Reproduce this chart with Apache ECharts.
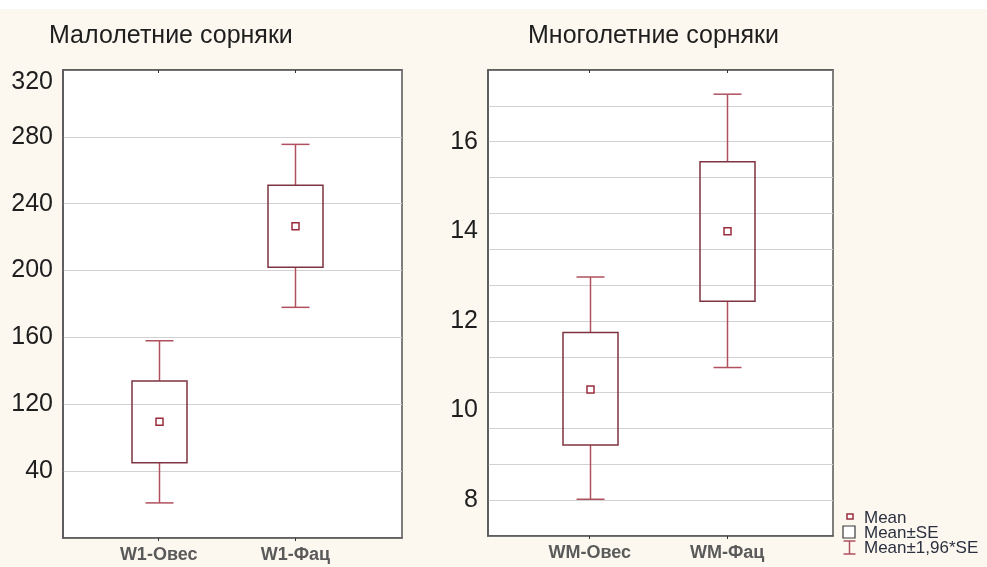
<!DOCTYPE html>
<html>
<head>
<meta charset="utf-8">
<title>Сорняки</title>
<script src="https://cdn.jsdelivr.net/npm/echarts@6/dist/echarts.min.js"></script>
<style>
  html, body { margin: 0; padding: 0; background: #ffffff; }
  #chart { width: 987px; height: 567px; }
</style>
</head>
<body>
<div id="chart"></div>
<script>
// --- data ---
var titles = ['Малолетние сорняки', 'Многолетние сорняки'];

var categoriesLeft = ['W1-Овес', 'W1-Фац'];
var meanLeft = [109.5, 226.5];
var seLowLeft = [85, 202];
var seHighLeft = [134, 251];
var ciLowLeft = [61, 178];
var ciHighLeft = [158, 275.5];
var yTickPosLeft = [80, 120, 160, 200, 240, 280, 313];
var yTickLabelsLeft = ['40', '120', '160', '200', '240', '280', '320'];

var categoriesRight = ['WM-Овес', 'WM-Фац'];
var meanRight = [10.47, 14.0];
var seLowRight = [9.23, 12.44];
var seHighRight = [11.74, 15.55];
var ciLowRight = [8.02, 10.96];
var ciHighRight = [12.98, 17.06];
var yTickPosRight = [8, 10, 12, 14, 16];
var yTickLabelsRight = ['8', '10', '12', '14', '16'];

var legendLabels = ['Mean', 'Mean±SE', 'Mean±1,96*SE'];

var FONT = 'Liberation Sans, Arial, sans-serif';
var BOX_COLOR = '#7e3440';
var WHISKER_COLOR = '#b0505e';
var MEAN_COLOR = '#9a2c3c';

function rows(mean, seLo, seHi, ciLo, ciHi) {
  return mean.map(function (m, i) {
    return [i + 1, m, seLo[i], seHi[i], ciLo[i], ciHi[i]];
  });
}

function renderBox(params, api) {
  var x = api.value(0);
  var mean = api.coord([x, api.value(1)]);
  var seLo = api.coord([x, api.value(2)]);
  var seHi = api.coord([x, api.value(3)]);
  var ciLo = api.coord([x, api.value(4)]);
  var ciHi = api.coord([x, api.value(5)]);
  var cx = Math.round(mean[0]) + 0.5;
  var boxW = 55, capW = 28, m = 7;
  var wStyle = { stroke: WHISKER_COLOR, lineWidth: 1.5 };
  return {
    type: 'group',
    children: [
      { type: 'line', shape: { x1: cx, y1: ciHi[1], x2: cx, y2: seHi[1] }, style: wStyle },
      { type: 'line', shape: { x1: cx, y1: seLo[1], x2: cx, y2: ciLo[1] }, style: wStyle },
      { type: 'line', shape: { x1: cx - capW / 2, y1: ciHi[1], x2: cx + capW / 2, y2: ciHi[1] }, style: wStyle },
      { type: 'line', shape: { x1: cx - capW / 2, y1: ciLo[1], x2: cx + capW / 2, y2: ciLo[1] }, style: wStyle },
      { type: 'rect', shape: { x: cx - boxW / 2, y: seHi[1], width: boxW, height: seLo[1] - seHi[1] },
        style: { fill: 'none', stroke: BOX_COLOR, lineWidth: 1.5 } },
      { type: 'rect', shape: { x: cx - m / 2, y: mean[1] - m / 2, width: m, height: m },
        style: { fill: '#ffffff', stroke: MEAN_COLOR, lineWidth: 1.5 } }
    ]
  };
}

function xAxisFor(gridIndex, cats, min, max) {
  return {
    type: 'value', gridIndex: gridIndex, min: min, max: max,
    splitLine: { show: false },
    axisLine: { show: true, lineStyle: { color: '#555', width: 1.5 } },
    axisTick: { show: true, customValues: [1, 2], length: 3, lineStyle: { color: '#333' } },
    axisLabel: {
      customValues: [1, 2], margin: 8,
      color: '#5a5a5a', fontSize: 18, fontWeight: 'bold', fontFamily: FONT,
      formatter: function (v) { return cats[Math.round(v) - 1]; }
    }
  };
}

function topAxisFor(gridIndex, min, max) {
  return {
    type: 'value', gridIndex: gridIndex, min: min, max: max, position: 'top',
    splitLine: { show: false },
    axisLine: { show: true, lineStyle: { color: '#555', width: 1.5 } },
    axisTick: { show: true, inside: true, customValues: [1, 2], length: 3, lineStyle: { color: '#333' } },
    axisLabel: { show: false }
  };
}

function yAxisFor(gridIndex, min, max, interval, pos, labels) {
  return {
    type: 'value', gridIndex: gridIndex, min: min, max: max, interval: interval,
    axisLine: { show: true, lineStyle: { color: '#555', width: 1.5 } },
    axisTick: { show: false },
    splitLine: { show: true, lineStyle: { color: '#d2d2d2', width: 1 } },
    axisLabel: {
      customValues: pos, margin: 10,
      color: '#1e1e1e', fontSize: 25, fontFamily: FONT,
      formatter: function (v) {
        for (var i = 0; i < pos.length; i++) {
          if (Math.abs(pos[i] - v) < 1e-6) return labels[i];
        }
        return '';
      }
    }
  };
}

var chart = echarts.init(document.getElementById('chart'));

var lx = 843, ly = 517;
var legendText = { fontSize: 17, fontFamily: FONT, fill: '#2b3040', verticalAlign: 'middle' };
var option = {
  backgroundColor: '#fcf8ef',
  animation: false,
  title: [
    { text: titles[0], left: 44, top: 19, textStyle: { fontSize: 25, fontWeight: 'normal', color: '#1e1e1e', fontFamily: FONT } },
    { text: titles[1], left: 523, top: 19, textStyle: { fontSize: 25, fontWeight: 'normal', color: '#1e1e1e', fontFamily: FONT } }
  ],
  grid: [
    { left: 63, top: 70, width: 339, height: 468, show: true, backgroundColor: '#ffffff', borderColor: '#555', borderWidth: 1.5 },
    { left: 488, top: 70, width: 345, height: 466, show: true, backgroundColor: '#ffffff', borderColor: '#555', borderWidth: 1.5 }
  ],
  xAxis: [
    xAxisFor(0, categoriesLeft, 0.3, 2.78),
    xAxisFor(1, categoriesRight, 0.26, 2.77),
    topAxisFor(0, 0.3, 2.78),
    topAxisFor(1, 0.26, 2.77)
  ],
  yAxis: [
    yAxisFor(0, 40, 320, 40, yTickPosLeft, yTickLabelsLeft),
    yAxisFor(1, 7.2, 17.6, 0.8, yTickPosRight, yTickLabelsRight)
  ],
  series: [
    {
      type: 'custom', xAxisIndex: 0, yAxisIndex: 0,
      renderItem: renderBox,
      encode: { x: 0, y: [1, 2, 3, 4, 5] },
      data: rows(meanLeft, seLowLeft, seHighLeft, ciLowLeft, ciHighLeft)
    },
    {
      type: 'custom', xAxisIndex: 1, yAxisIndex: 1,
      renderItem: renderBox,
      encode: { x: 0, y: [1, 2, 3, 4, 5] },
      data: rows(meanRight, seLowRight, seHighRight, ciLowRight, ciHighRight)
    }
  ],
  graphic: [
    { type: 'rect', shape: { x: 0, y: 0, width: 987, height: 9 }, style: { fill: '#ffffff' } },
    // legend: mean marker
    { type: 'rect', shape: { x: lx + 4, y: ly - 3, width: 6, height: 5 }, style: { fill: '#fff', stroke: MEAN_COLOR, lineWidth: 1.5 } },
    { type: 'text', x: lx + 21, y: ly + 1, style: Object.assign({ text: legendLabels[0] }, legendText) },
    // legend: SE box
    { type: 'rect', shape: { x: lx, y: ly + 9, width: 12, height: 12 }, style: { fill: '#fff', stroke: '#3a3a3a', lineWidth: 1.2 } },
    { type: 'text', x: lx + 21, y: ly + 16, style: Object.assign({ text: legendLabels[1] }, legendText) },
    // legend: whisker
    { type: 'line', shape: { x1: lx + 6.5, y1: ly + 24, x2: lx + 6.5, y2: ly + 37 }, style: { stroke: WHISKER_COLOR, lineWidth: 1.5 } },
    { type: 'line', shape: { x1: lx + 0.5, y1: ly + 24, x2: lx + 12.5, y2: ly + 24 }, style: { stroke: WHISKER_COLOR, lineWidth: 1.5 } },
    { type: 'line', shape: { x1: lx + 0.5, y1: ly + 37, x2: lx + 12.5, y2: ly + 37 }, style: { stroke: WHISKER_COLOR, lineWidth: 1.5 } },
    { type: 'text', x: lx + 21, y: ly + 31, style: Object.assign({ text: legendLabels[2] }, legendText) }
  ]
};

chart.setOption(option);
</script>
</body>
</html>
